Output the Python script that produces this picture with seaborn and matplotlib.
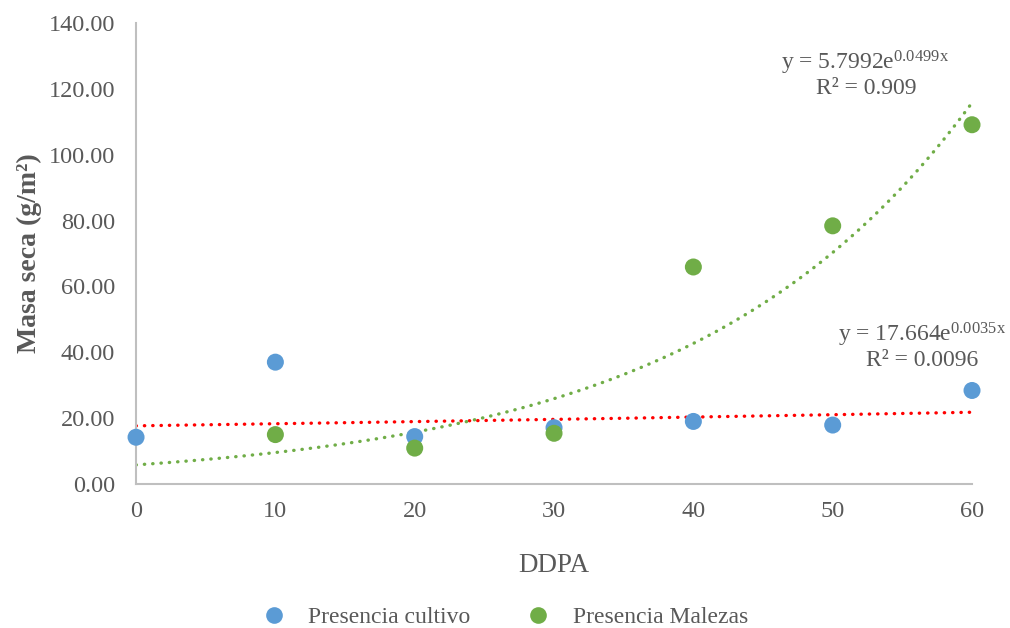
import numpy as np
import pandas as pd
import matplotlib
matplotlib.use("Agg")
import matplotlib.pyplot as plt
import seaborn as sns

# Sampling days after planting and dry-mass readings
ddpa = [0, 10, 20, 30, 40, 50, 60]
cultivo = [14.2, 37.0, 14.4, 17.1, 19.0, 17.9, 28.4]
ddpa_malezas = [10, 20, 30, 40, 50, 60]
malezas = [15.0, 10.9, 15.4, 65.9, 78.4, 109.1]

# Exponential trendline parameters (y = a * e^(b x)) and fit quality
cultivo_a, cultivo_b, cultivo_r2 = 17.664, 0.0035, "0.0096"
malezas_a, malezas_b, malezas_r2 = 5.7992, 0.0499, "0.909"

series_names = ["Presencia cultivo", "Presencia Malezas"]
colors = {"Presencia cultivo": "#5b9bd5", "Presencia Malezas": "#70ad47"}
text_color = "#595959"
axis_color = "#bfbfbf"

sns.set_style("white")
plt.rcParams["font.family"] = ["Liberation Serif", "DejaVu Serif"]
plt.rcParams["mathtext.fontset"] = "custom"
plt.rcParams["mathtext.rm"] = "Liberation Serif"
plt.rcParams["mathtext.it"] = "Liberation Serif:italic"

points = pd.concat([
    pd.DataFrame({"DDPA": ddpa, "Masa": cultivo, "Serie": series_names[0]}),
    pd.DataFrame({"DDPA": ddpa_malezas, "Masa": malezas, "Serie": series_names[1]}),
])

xs = np.linspace(0, 60, 200)
trend = pd.concat([
    pd.DataFrame({"DDPA": xs, "Masa": cultivo_a * np.exp(cultivo_b * xs), "Serie": "red"}),
    pd.DataFrame({"DDPA": xs, "Masa": malezas_a * np.exp(malezas_b * xs), "Serie": "green"}),
])

W, H = 1010, 628
fig = plt.figure(figsize=(W / 100, H / 100), dpi=100)
ax = fig.add_axes([0.1347, 0.2293, 0.8277, 0.7341])

# Dotted exponential trendlines
for name, col in [("red", "#ff0000"), ("green", "#70ad47")]:
    sub = trend[trend["Serie"] == name]
    sns.lineplot(data=sub, x="DDPA", y="Masa", ax=ax, color=col, lw=2.4,
                 linestyle=(0, (0.1, 2.4)), dash_capstyle="round",
                 solid_capstyle="round", legend=False, zorder=2)

sns.scatterplot(data=points, x="DDPA", y="Masa", hue="Serie", palette=colors,
                hue_order=series_names, s=150, edgecolor="none", ax=ax,
                legend=False, zorder=3, clip_on=False)

ax.set_xlim(0, 60)
ax.set_ylim(0, 140)
ax.set_xticks([0, 10, 20, 30, 40, 50, 60])
ax.set_yticks(np.arange(0, 141, 20))
ax.set_yticklabels([f"{v:.2f}" for v in np.arange(0, 141, 20)])
ax.tick_params(axis="both", length=0, labelsize=17.5, colors=text_color)
ax.tick_params(axis="y", pad=15)
ax.tick_params(axis="x", pad=12)

for side in ["top", "right"]:
    ax.spines[side].set_visible(False)
for side in ["left", "bottom"]:
    ax.spines[side].set_color(axis_color)
    ax.spines[side].set_linewidth(1.5)

ax.set_xlabel("DDPA", fontsize=19.5, color=text_color)
ax.xaxis.set_label_coords(0.5, -0.176)
ax.xaxis.label.set_va("center")
ax.set_ylabel("Masa seca (g/m²)", fontsize=20, fontweight="bold",
              color=text_color)
ax.yaxis.set_label_coords(-0.127, 0.5)
ax.yaxis.label.set_va("center")

# Trendline equations (placed in pixel coordinates from the top-left)
def label(x, y, s):
    ax.text(x, H - y, s, transform=None, fontsize=17, color=text_color,
            ha="center", va="center")

label(865, 63, f"y = {malezas_a}e$^{{\\mathrm{{{malezas_b}x}}}}$")
label(866, 89, f"R² = {malezas_r2}")
label(922, 335, f"y = {cultivo_a}e$^{{\\mathrm{{{cultivo_b}x}}}}$")
label(922, 361, f"R² = {cultivo_r2}")

handles = [plt.Line2D([], [], marker="o", ls="none", markersize=12,
                      markerfacecolor=colors[n], markeredgecolor="none")
           for n in series_names]
leg = fig.legend(handles, series_names, loc="center", ncol=2,
                 frameon=False, fontsize=17,
                 bbox_to_anchor=(0.494, 1 - 617 / H),
                 columnspacing=1.9, handletextpad=0.45)
for t in leg.get_texts():
    t.set_color(text_color)

fig.savefig("out.png", dpi=100)
